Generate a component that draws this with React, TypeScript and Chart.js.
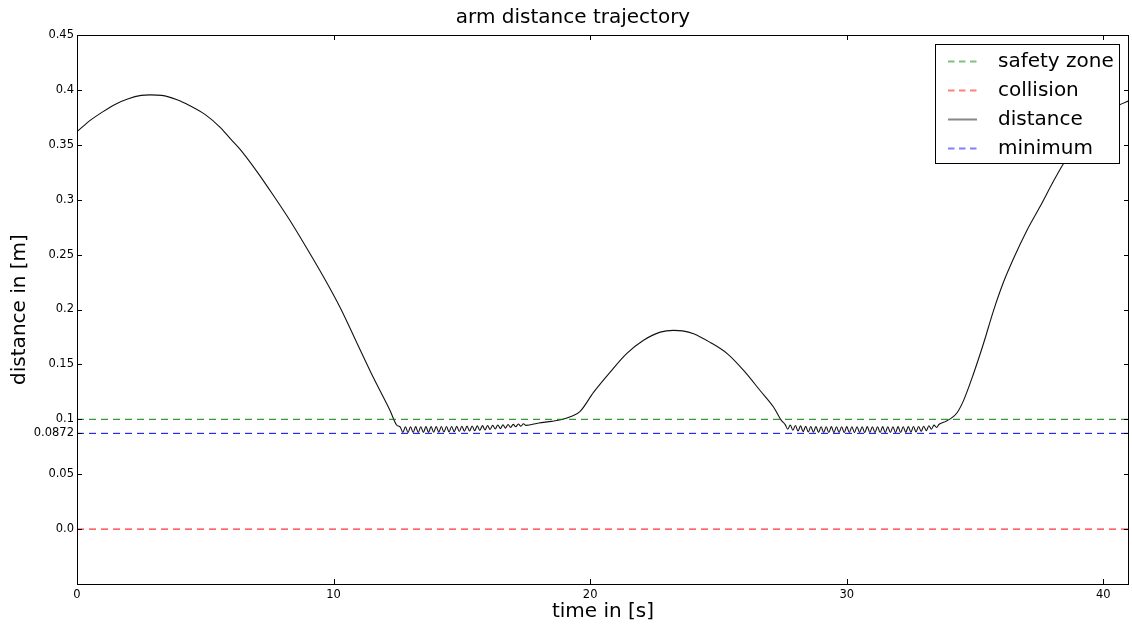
import React, { useEffect, useRef } from "react";
import { Chart, registerables } from "chart.js";

Chart.register(...registerables);

// ---- data ----
const timeS: number[] = [
  0.0, 0.5, 1.0, 1.5, 2.0, 2.5, 2.85, 3.3, 3.9, 4.4, 5.0, 5.6, 6.0, 6.35, 7.0, 7.65, 8.3, 8.95, 9.6, 10.25,
  10.9, 11.55, 12.2, 12.45,
  12.6, 12.7, 12.8, 12.9, 13.0, 13.1, 13.2, 13.3, 13.4, 13.5, 13.6, 13.7, 13.8, 13.9, 14.0, 14.1, 14.2, 14.3,
  14.4, 14.5, 14.6, 14.7, 14.8, 14.9, 15.0, 15.1, 15.2, 15.3, 15.4, 15.5, 15.6, 15.7, 15.8, 15.9, 16.0, 16.1,
  16.2, 16.3, 16.4, 16.5, 16.6, 16.7, 16.8, 16.9, 17.0, 17.1, 17.2, 17.3, 17.4, 17.5,
  18.0, 18.5, 18.9, 19.25, 19.6, 20.13, 20.78, 21.43, 22.08, 22.73, 23.25, 23.6, 24.03, 24.68, 25.33, 25.98,
  26.63, 27.15, 27.45,
  27.6, 27.7, 27.8, 27.9, 28.0, 28.1, 28.2, 28.3, 28.4, 28.5, 28.6, 28.7, 28.8, 28.9, 29.0, 29.1, 29.2, 29.3,
  29.4, 29.5, 29.6, 29.7, 29.8, 29.9, 30.0, 30.1, 30.2, 30.3, 30.4, 30.5, 30.6, 30.7, 30.8, 30.9, 31.0, 31.1,
  31.2, 31.3, 31.4, 31.5, 31.6, 31.7, 31.8, 31.9, 32.0, 32.1, 32.2, 32.3, 32.4, 32.5, 32.6, 32.7, 32.8, 32.9,
  33.0, 33.1, 33.2, 33.3, 33.4, 33.5, 33.6,
  33.8, 34.05, 34.3, 34.55, 34.94, 35.33, 35.72, 36.11, 36.5, 37.02, 37.54, 38.06, 38.45, 39.0, 39.5, 40.0,
  40.6, 41.0,
];

const distanceM: number[] = [
  0.362, 0.372, 0.380, 0.387, 0.392, 0.395, 0.3955, 0.395, 0.391, 0.3856, 0.3775, 0.3655, 0.355, 0.346, 0.326,
  0.304, 0.281, 0.256, 0.23, 0.202, 0.17, 0.138, 0.108, 0.095,
  0.0928, 0.0881, 0.0932, 0.0879, 0.0932, 0.088, 0.0933, 0.088, 0.0932, 0.0881, 0.0933, 0.0881, 0.0933,
  0.0882, 0.0933, 0.0883, 0.0934, 0.0884, 0.0934, 0.0885, 0.0935, 0.0887, 0.0936, 0.0889, 0.0937, 0.0891,
  0.0938, 0.0893, 0.0939, 0.0896, 0.094, 0.0899, 0.0942, 0.0903, 0.0944, 0.0907, 0.0946, 0.0911, 0.0948,
  0.0915, 0.095, 0.092, 0.0952, 0.0926, 0.0954, 0.0932, 0.0957, 0.0938, 0.0959, 0.0945,
  0.0967, 0.0981, 0.0998, 0.1025, 0.107, 0.1245, 0.143, 0.16, 0.172, 0.1794, 0.181, 0.1805, 0.178, 0.17, 0.16,
  0.1445, 0.126, 0.111, 0.099,
  0.0952, 0.091, 0.0948, 0.09, 0.0943, 0.0893, 0.094, 0.0888, 0.0936, 0.0884, 0.0934, 0.0882, 0.0933,
  0.0881, 0.0932, 0.088, 0.0932, 0.088, 0.0933, 0.0879, 0.0932, 0.088, 0.0932, 0.0879, 0.0933, 0.088,
  0.0932, 0.0879, 0.0932, 0.088, 0.0932, 0.0879, 0.0933, 0.088, 0.0932, 0.0879, 0.0932, 0.088, 0.0933,
  0.0879, 0.0932, 0.088, 0.0932, 0.0879, 0.0933, 0.088, 0.0932, 0.0881, 0.0933, 0.0882, 0.0934, 0.0885,
  0.0935, 0.089, 0.0937, 0.0897, 0.0941, 0.091, 0.0947, 0.0926, 0.0955,
  0.0975, 0.1006, 0.106, 0.117, 0.1415, 0.169, 0.199, 0.225, 0.2465, 0.272, 0.294, 0.317, 0.333, 0.351,
  0.364, 0.375, 0.386, 0.39,
];

const safetyZoneM = 0.1;
const collisionM = 0.0;
const minimumM = 0.0872;

const xRange = [0, 41];
const yRange = [-0.05, 0.45];
const xTickValues = [0, 10, 20, 30, 40];
const yTickValues = [0.0, 0.05, 0.0872, 0.1, 0.15, 0.2, 0.25, 0.3, 0.35, 0.4, 0.45];
const yTickLabels = ["0.0", "0.05", "0.0872", "0.1", "0.15", "0.2", "0.25", "0.3", "0.35", "0.4", "0.45"];
const seriesLabels = ["safety zone", "collision", "distance", "minimum"];

const FONT = "'DejaVu Sans', sans-serif";

const framePlugin = {
  id: "mplFrame",
  afterDraw(chart: any) {
    const { ctx, chartArea, scales } = chart;
    const { left, right, top, bottom } = chartArea;
    const xs = scales.x;
    const ys = scales.y;
    ctx.save();
    // frame
    ctx.strokeStyle = "#000";
    ctx.lineWidth = 1;
    ctx.setLineDash([]);
    ctx.strokeRect(Math.round(left) + 0.5, Math.round(top) + 0.5, Math.round(right - left) - 1, Math.round(bottom - top));
    // inward ticks
    ctx.beginPath();
    for (const v of yTickValues) {
      const py = Math.round(ys.getPixelForValue(v)) + 0.5;
      ctx.moveTo(left, py);
      ctx.lineTo(left + 5, py);
      ctx.moveTo(right, py);
      ctx.lineTo(right - 5, py);
    }
    for (const v of xTickValues) {
      const px = Math.round(xs.getPixelForValue(v)) + 0.5;
      ctx.moveTo(px, bottom);
      ctx.lineTo(px, bottom - 5);
      ctx.moveTo(px, top);
      ctx.lineTo(px, top + 5);
    }
    ctx.stroke();

    // title
    ctx.fillStyle = "#000";
    ctx.font = `20px ${FONT}`;
    ctx.textAlign = "center";
    ctx.textBaseline = "middle";
    ctx.fillText("arm distance trajectory", 573, 18);

    // legend
    const lx = 935, ly = 44, lw = 184, lh = 119;
    ctx.fillStyle = "#fff";
    ctx.fillRect(lx, ly, lw, lh);
    ctx.strokeStyle = "#000";
    ctx.lineWidth = 1;
    ctx.strokeRect(lx + 0.5, ly + 0.5, lw, lh);
    chart.data.datasets.forEach((ds: any, i: number) => {
      const cy = 61.5 + i * 29;
      ctx.save();
      ctx.globalAlpha = 0.5;
      ctx.strokeStyle = ds.borderColor;
      ctx.lineWidth = 2;
      ctx.setLineDash(ds.borderDash && ds.borderDash.length ? [6.5, 4.5] : []);
      ctx.beginPath();
      ctx.moveTo(948, cy);
      ctx.lineTo(977, cy);
      ctx.stroke();
      ctx.restore();
      ctx.fillStyle = "#000";
      ctx.font = `20px ${FONT}`;
      ctx.textAlign = "left";
      ctx.textBaseline = "middle";
      ctx.fillText(ds.label, 998, cy);
    });
    ctx.restore();
  },
};

export default function App() {
  const canvasRef = useRef<HTMLCanvasElement | null>(null);

  useEffect(() => {
    if (!canvasRef.current) return;
    const hline = (y: number) => [
      { x: xRange[0], y },
      { x: xRange[1], y },
    ];
    const chart = new Chart(canvasRef.current, {
      type: "line",
      data: {
        datasets: [
          {
            label: seriesLabels[0],
            data: hline(safetyZoneM),
            borderColor: "#008000",
            borderDash: [7, 5],
            borderWidth: 1,
            pointRadius: 0,
          },
          {
            label: seriesLabels[1],
            data: hline(collisionM),
            borderColor: "#ff0000",
            borderDash: [7, 5],
            borderWidth: 1,
            pointRadius: 0,
          },
          {
            label: seriesLabels[2],
            data: timeS.map((t, i) => ({ x: t, y: distanceM[i] })),
            borderColor: "#111111",
            borderWidth: 1.1,
            pointRadius: 0,
            cubicInterpolationMode: "monotone",
          },
          {
            label: seriesLabels[3],
            data: hline(minimumM),
            borderColor: "#0000ff",
            borderDash: [7, 5],
            borderWidth: 1,
            pointRadius: 0,
          },
        ],
      } as any,
      options: {
        responsive: false,
        animation: false,
        parsing: false as any,
        layout: { padding: { top: 35, right: 3, left: 0, bottom: 0 } },
        plugins: {
          legend: { display: false },
          title: { display: false },
          tooltip: { enabled: false },
        },
        scales: {
          x: {
            type: "linear",
            min: xRange[0],
            max: xRange[1],
            afterBuildTicks: (s: any) => {
              s.ticks = xTickValues.map((v) => ({ value: v }));
            },
            afterFit: (s: any) => {
              s.height = 40;
            },
            ticks: {
              autoSkip: false,
              maxRotation: 0,
              padding: 4,
              color: "#000",
              font: { family: FONT, size: 11.5 },
              callback: (v: any) => String(v),
            },
            grid: { display: false, drawTicks: false },
            border: { display: false },
            title: {
              display: true,
              text: "time in [s]",
              color: "#000",
              font: { family: FONT, size: 20 },
              padding: { top: 2, bottom: 0 },
            },
          },
          y: {
            type: "linear",
            min: yRange[0],
            max: yRange[1],
            afterBuildTicks: (s: any) => {
              s.ticks = yTickValues.map((v) => ({ value: v }));
            },
            afterFit: (s: any) => {
              s.width = 77;
            },
            ticks: {
              autoSkip: false,
              padding: 3,
              color: "#000",
              font: { family: FONT, size: 11.5 },
              callback: (_v: any, i: number) => yTickLabels[i],
            },
            grid: { display: false, drawTicks: false },
            border: { display: false },
            title: {
              display: true,
              text: "distance in [m]",
              color: "#000",
              font: { family: FONT, size: 20 },
              padding: { top: 8, bottom: 0 },
            },
          },
        },
      } as any,
      plugins: [framePlugin],
    });
    return () => chart.destroy();
  }, []);

  return (
    <div style={{ position: "fixed", left: 0, top: 0, width: 1132, height: 624, background: "#fff" }}>
      <canvas ref={canvasRef} width={1132} height={624} style={{ display: "block" }} />
    </div>
  );
}
